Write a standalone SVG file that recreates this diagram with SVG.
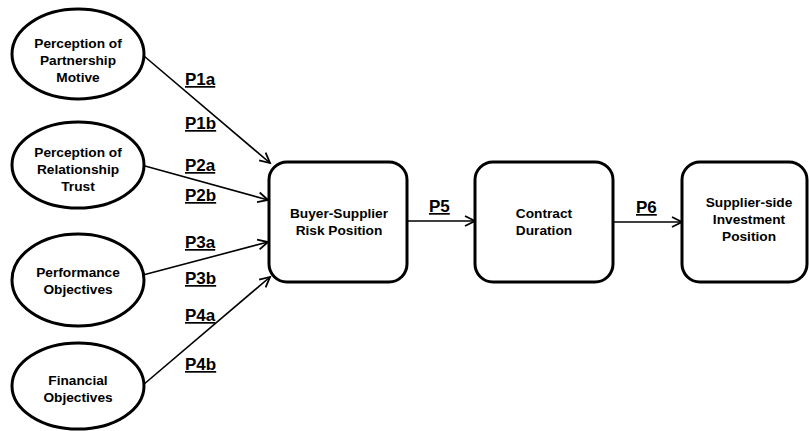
<svg xmlns="http://www.w3.org/2000/svg" width="809" height="431" viewBox="0 0 809 431">
<defs>
<style>
.node{fill:#fff;stroke:#000;stroke-width:3}
.t{font-family:"Liberation Sans",Arial,sans-serif;font-weight:bold;font-size:13.7px;text-anchor:middle;fill:#000}
.lbl{font-family:"Liberation Sans",Arial,sans-serif;font-weight:bold;font-size:17px;fill:#000;text-decoration:underline}
.c{stroke:#000;stroke-width:1.6;fill:none;marker-end:url(#ah)}
</style>
<marker id="ah" markerUnits="userSpaceOnUse" markerWidth="14" markerHeight="14" refX="11" refY="6" orient="auto" viewBox="0 0 14 12">
<path d="M1,1 L11,6 L1,11" fill="none" stroke="#000" stroke-width="1.8"/>
</marker>
</defs>
<rect width="809" height="431" fill="#fff"/>
<g id="connectors">
<line class="c" x1="144" y1="56" x2="270" y2="163"/>
<line class="c" x1="145" y1="166" x2="268" y2="200"/>
<line class="c" x1="143" y1="275" x2="268" y2="242"/>
<line class="c" x1="143" y1="385" x2="270" y2="277"/>
<line class="c" x1="407" y1="221" x2="475" y2="221"/>
<line class="c" x1="613" y1="222" x2="682" y2="222"/>
</g>
<g id="labels">
<text class="lbl" x="185" y="85">P1a</text>
<text class="lbl" x="185" y="129">P1b</text>
<text class="lbl" x="185" y="171">P2a</text>
<text class="lbl" x="185" y="201">P2b</text>
<text class="lbl" x="185" y="248">P3a</text>
<text class="lbl" x="185" y="284">P3b</text>
<text class="lbl" x="185" y="321">P4a</text>
<text class="lbl" x="185" y="370">P4b</text>
<text class="lbl" x="429" y="212">P5</text>
<text class="lbl" x="636" y="213">P6</text>
</g>
<g id="partnership-motive">
<ellipse class="node" cx="78" cy="54" rx="66" ry="45"/>
<text class="t" x="78" y="48">Perception of</text>
<text class="t" x="78" y="65">Partnership</text>
<text class="t" x="78" y="82">Motive</text>
</g>
<g id="relationship-trust">
<ellipse class="node" cx="78" cy="165" rx="66" ry="43"/>
<text class="t" x="78" y="157">Perception of</text>
<text class="t" x="78" y="174">Relationship</text>
<text class="t" x="78" y="191">Trust</text>
</g>
<g id="performance-objectives">
<ellipse class="node" cx="78" cy="280" rx="66" ry="46"/>
<text class="t" x="78" y="277">Performance</text>
<text class="t" x="78" y="294">Objectives</text>
</g>
<g id="financial-objectives">
<ellipse class="node" cx="78" cy="386" rx="66" ry="43"/>
<text class="t" x="78" y="385">Financial</text>
<text class="t" x="78" y="402">Objectives</text>
</g>
<g id="risk-position">
<rect class="node" x="269" y="162" width="138" height="120" rx="18"/>
<text class="t" x="339" y="218">Buyer-Supplier</text>
<text class="t" x="339" y="235">Risk Position</text>
</g>
<g id="contract-duration">
<rect class="node" x="475" y="162" width="138" height="120" rx="18"/>
<text class="t" x="544" y="218">Contract</text>
<text class="t" x="544" y="235">Duration</text>
</g>
<g id="investment-position">
<rect class="node" x="682" y="162" width="125" height="120" rx="18"/>
<text class="t" x="749" y="207">Supplier-side</text>
<text class="t" x="749" y="224">Investment</text>
<text class="t" x="749" y="241">Position</text>
</g>
</svg>
